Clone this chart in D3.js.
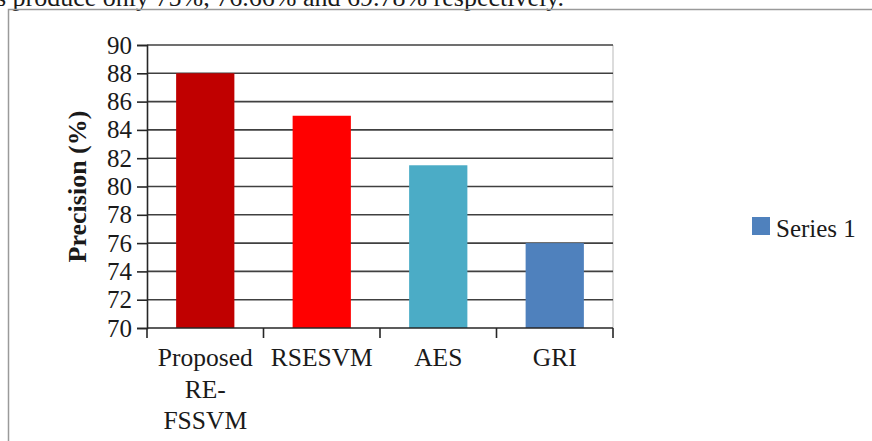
<!DOCTYPE html>
<html>
<head>
<meta charset="utf-8">
<script src="https://cdn.jsdelivr.net/npm/d3@7"></script>
<style>
  html, body { margin: 0; padding: 0; background: #fff; }
  svg { display: block; }
</style>
</head>
<body>
<svg id="chart" width="872" height="441"></svg>
<script>
const categories = ['Proposed RE-FSSVM', 'RSESVM', 'AES', 'GRI']
const values = [88, 85, 81.5, 76]
const barColors = ['#C00000', '#FF0000', '#4BACC6', '#4F81BD']
const yTicks = [70, 72, 74, 76, 78, 80, 82, 84, 86, 88, 90]
const seriesName = 'Series 1'

const SERIF = '"Liberation Serif", "Times New Roman", Times, serif'
const svg = d3.select('#chart')
const plot = { left: 147, right: 613, top: 45, bottom: 328 }

// page frame + cut-off sentence from the document above
svg.append('text')
  .attr('x', -4)
  .attr('y', 6)
  .style('font-family', SERIF)
  .style('font-size', '26px')
  .style('fill', '#1a1a1a')
  .text('s produce only 75%, 76.66% and 69.78% respectively.')

svg.append('path')
  .attr('d', 'M8.5,441 V9.5 H872')
  .attr('fill', 'none')
  .attr('stroke', '#9a9a9a')
  .attr('stroke-width', 1.5)

const x = d3.scaleBand()
  .domain(categories)
  .range([plot.left, plot.right])
  .paddingInner(0.5)
  .paddingOuter(0.25)

const y = d3.scaleLinear()
  .domain([70, 90])
  .range([plot.bottom, plot.top])

// right border of plot area
svg.append('line')
  .attr('x1', plot.right).attr('x2', plot.right)
  .attr('y1', plot.top).attr('y2', plot.bottom)
  .attr('stroke', '#d0d0d0')
  .attr('stroke-width', 1.5)

// gridlines (under the bars)
svg.append('g')
  .selectAll('line.grid')
  .data(yTicks.filter(d => d > 70))
  .enter()
  .append('line')
  .attr('class', 'grid')
  .attr('x1', plot.left)
  .attr('x2', plot.right)
  .attr('y1', d => y(d))
  .attr('y2', d => y(d))
  .attr('stroke', '#404040')
  .attr('stroke-width', 1.6)

// bars
svg.append('g')
  .selectAll('rect.bar')
  .data(values)
  .enter()
  .append('rect')
  .attr('class', 'bar')
  .attr('x', (d, i) => x(categories[i]))
  .attr('y', d => y(d))
  .attr('width', x.bandwidth())
  .attr('height', d => y(70) - y(d))
  .attr('fill', (d, i) => barColors[i])

// y axis
const yAxis = svg.append('g')
  .attr('transform', `translate(${plot.left},0)`)
  .call(d3.axisLeft(y).tickValues(yTicks).tickSize(10).tickPadding(5).tickFormat(d3.format('d')))
yAxis.select('.domain').attr('stroke', '#262626').attr('stroke-width', 1.6)
yAxis.selectAll('.tick line').attr('stroke', '#262626').attr('stroke-width', 1.6)
yAxis.selectAll('.tick text')
  .style('font-family', SERIF)
  .style('font-size', '25px')
  .style('fill', '#1a1a1a')

// x axis line + boundary ticks
const xAxis = svg.append('g')
xAxis.append('line')
  .attr('x1', plot.left).attr('x2', plot.right)
  .attr('y1', plot.bottom).attr('y2', plot.bottom)
  .attr('stroke', '#262626')
  .attr('stroke-width', 1.6)
xAxis.selectAll('line.xtick')
  .data(d3.range(categories.length + 1))
  .enter()
  .append('line')
  .attr('class', 'xtick')
  .attr('x1', i => plot.left + i * x.step())
  .attr('x2', i => plot.left + i * x.step())
  .attr('y1', plot.bottom)
  .attr('y2', plot.bottom + 10)
  .attr('stroke', '#262626')
  .attr('stroke-width', 1.6)

// category labels, wrapped like the original
xAxis.selectAll('text.cat')
  .data(categories)
  .enter()
  .append('text')
  .attr('class', 'cat')
  .attr('text-anchor', 'middle')
  .style('font-family', SERIF)
  .style('font-size', '25.5px')
  .style('fill', '#1a1a1a')
  .attr('transform', d => `translate(${x(d) + x.bandwidth() / 2}, ${plot.bottom + 38})`)
  .each(function(d) {
    const lines = d.split(/(?<=-)|\s+/)
    d3.select(this).selectAll('tspan')
      .data(lines)
      .enter()
      .append('tspan')
      .attr('x', 0)
      .attr('dy', (l, i) => i === 0 ? 0 : 31.5)
      .text(l => l)
  })

// y axis title
svg.append('text')
  .attr('transform', `translate(86, ${(plot.top + plot.bottom) / 2}) rotate(-90)`)
  .attr('text-anchor', 'middle')
  .style('font-family', SERIF)
  .style('font-size', '26px')
  .style('font-weight', 'bold')
  .style('fill', '#1a1a1a')
  .text('Precision (%)')

// legend
const legend = svg.append('g').attr('transform', 'translate(752, 217)')
legend.append('rect')
  .attr('width', 18)
  .attr('height', 18)
  .attr('fill', '#4F81BD')
legend.append('text')
  .attr('x', 24)
  .attr('y', 19.5)
  .style('font-family', SERIF)
  .style('font-size', '25px')
  .style('fill', '#1a1a1a')
  .text(seriesName)
</script>
</body>
</html>
